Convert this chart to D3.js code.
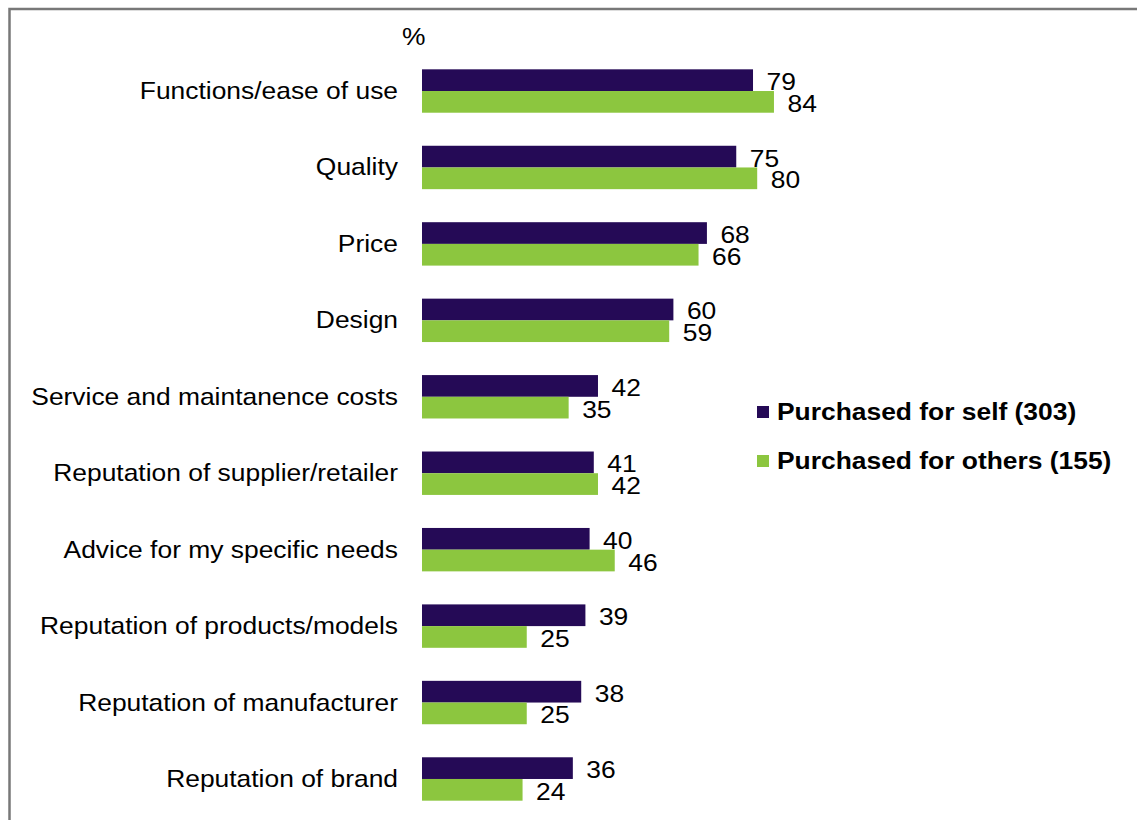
<!DOCTYPE html>
<html>
<head>
<meta charset="utf-8">
<script src="https://cdn.jsdelivr.net/npm/d3@7"></script>
<style>
  html, body { margin: 0; padding: 0; background: #fff; }
  svg { display: block; font-family: "Liberation Sans", Arial, sans-serif; }
</style>
</head>
<body>
<svg id="chart" width="1137" height="820"></svg>
<script>
// Reasons for choosing a product, % of respondents
const categories = [
  "Functions/ease of use",
  "Quality",
  "Price",
  "Design",
  "Service and maintanence costs",
  "Reputation of supplier/retailer",
  "Advice for my specific needs",
  "Reputation of products/models",
  "Reputation of manufacturer",
  "Reputation of brand"
];
const selfValues   = [79, 75, 68, 60, 42, 41, 40, 39, 38, 36];
const othersValues = [84, 80, 66, 59, 35, 42, 46, 25, 25, 24];
const seriesNames  = ["Purchased for self (303)", "Purchased for others (155)"];
const seriesColors = ["#250a56", "#8cc63f"];
const unitLabel = "%";

const svg = d3.select("#chart");
const W = 1137, H = 820;
const FS = 24;        // text size
const STRETCH = 1.1;  // wide text face

// outer frame (left and top edges)
svg.append("path")
  .attr("d", `M9.5,${H} L9.5,9 L${W},9`)
  .attr("fill", "none")
  .attr("stroke", "#787878")
  .attr("stroke-width", 2.5);

// places a horizontally widened text at (px, py)
function label(parent, px, py, anchor) {
  return parent.append("text")
    .attr("transform", d => {
      const X = typeof px === "function" ? px(d) : px;
      const Y = typeof py === "function" ? py(d) : py;
      return `translate(${X},${Y}) scale(${STRETCH},1)`;
    })
    .attr("text-anchor", anchor)
    .attr("font-size", FS)
    .attr("fill", "#000");
}

const x = d3.scaleLinear().domain([0, 100]).range([422, 422 + 419]);
const y = d3.scaleBand().domain(categories).range([52.8, 817.2]).padding(0);
const inner = d3.scaleBand().domain([0, 1]).range([0, 43.4]);

const rows = categories.map((c, i) => ({ cat: c, vals: [selfValues[i], othersValues[i]] }));

const row = svg.append("g").selectAll("g.row").data(rows).join("g")
  .attr("class", "row")
  .attr("transform", d => `translate(0,${y(d.cat) + y.bandwidth() / 2 - 21.7})`);

row.selectAll("rect").data(d => d.vals.map((v, k) => ({ v, k }))).join("rect")
  .attr("x", x(0))
  .attr("y", d => inner(d.k))
  .attr("width", d => x(d.v) - x(0))
  .attr("height", inner.bandwidth())
  .attr("fill", d => seriesColors[d.k]);

row.selectAll("g.val").data(d => d.vals.map((v, k) => ({ v, k }))).join("g")
  .attr("class", "val")
  .each(function (d) {
    label(d3.select(this), x(d.v) + 13.5, inner(d.k) + inner.bandwidth() / 2 + 10, "start")
      .text(d.v);
  });

// category labels
row.each(function (d) {
  label(d3.select(this), 398, 21.7 + 8, "end").text(d.cat);
});

label(svg, 402, 45, "start").text(unitLabel);

// legend
const legend = svg.append("g").selectAll("g").data(seriesNames).join("g")
  .attr("transform", (d, i) => `translate(757,${420 + i * 49})`);
legend.append("rect")
  .attr("x", 0).attr("y", -14).attr("width", 12).attr("height", 12)
  .attr("fill", (d, i) => seriesColors[i]);
legend.each(function (d) {
  label(d3.select(this), 20, 0, "start")
    .attr("font-weight", "bold")
    .text(d);
});
</script>
</body>
</html>
